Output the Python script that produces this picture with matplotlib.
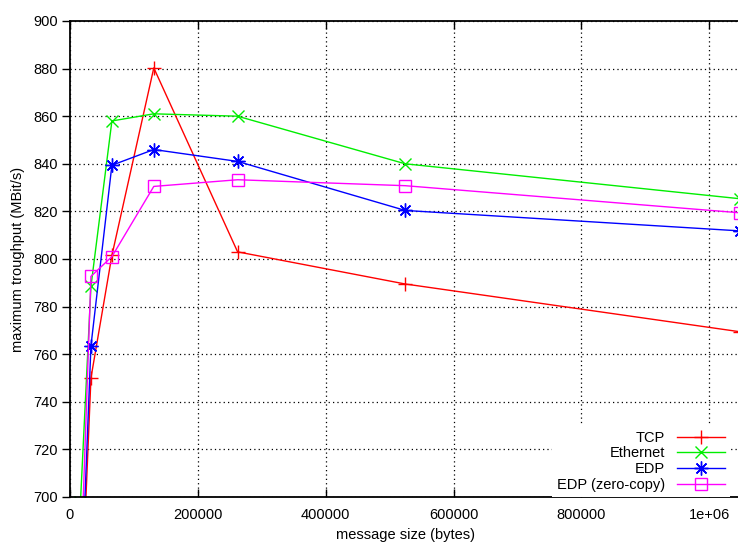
import matplotlib
matplotlib.use("Agg")
import matplotlib.pyplot as plt
from matplotlib.ticker import FuncFormatter

plt.rcParams['font.family'] = ['Liberation Sans', 'DejaVu Sans']
plt.rcParams['font.size'] = 10.5

sizes = [16384, 32768, 65536, 131072, 262144, 524288, 1048576]
tcp = [645, 750, 801.5, 880.3, 803, 789.5, 769.4]
ethernet = [698, 788.5, 858, 861, 860, 840, 825.3]
edp = [652, 763.5, 839.4, 846, 841, 820.4, 811.8]
edp_zero = [666, 792.7, 801, 830.5, 833.3, 830.8, 819.4]

series = [
    ("TCP", tcp, "#ff0000", "+", 10),
    ("Ethernet", ethernet, "#00ee00", "x", 8),
    ("EDP", edp, "#0000ff", (8, 2, 0), 10),
    ("EDP (zero-copy)", edp_zero, "#ff00ff", "s", 8.5),
]

xticks = [0, 200000, 400000, 600000, 800000, 1000000]
yticks = [700, 720, 740, 760, 780, 800, 820, 840, 860, 880, 900]

W, H = 738, 543
fig = plt.figure(figsize=(W / 100, H / 100), dpi=100)
ax = fig.add_axes([70 / W, (H - 497) / H, 670.4 / W, 476 / H])

for name, vals, color, marker, ms in series:
    ax.plot(sizes, vals, color=color, lw=1.0, marker=marker, ms=ms,
            markerfacecolor='none' if marker == "s" else color,
            markeredgecolor=color, markeredgewidth=1.0, label=name,
            clip_on=True)

ax.set_xlim(0, 1048576)
ax.set_ylim(700, 900)
ax.set_xticks(xticks)
ax.set_yticks(yticks)
ax.xaxis.set_major_formatter(FuncFormatter(lambda v, p: "1e+06" if v == 1000000 else f"{int(v)}"))
ax.grid(True, color='black', linestyle=(0, (1, 2.5)), linewidth=0.9)
ax.tick_params(axis='x', direction='in', length=6, top=True, width=1, pad=8)
ax.tick_params(axis='y', direction='out', length=6, width=1, pad=3)
for s in ax.spines.values():
    s.set_linewidth(1.3)

ax.set_xlabel("message size (bytes)", labelpad=4)
ax.set_ylabel("maximum troughput (MBit/s)", labelpad=6)

leg = ax.legend(loc='lower right', bbox_to_anchor=(660 / 670.4, 0.0),
                markerfirst=False, frameon=True, fancybox=False,
                handlelength=3.3, handletextpad=0.8, labelspacing=0.12,
                borderpad=0.35, borderaxespad=0.0)
leg.get_frame().set_facecolor('white')
leg.get_frame().set_edgecolor('none')
leg.get_frame().set_alpha(1)

fig.savefig("out.png", dpi=100)
